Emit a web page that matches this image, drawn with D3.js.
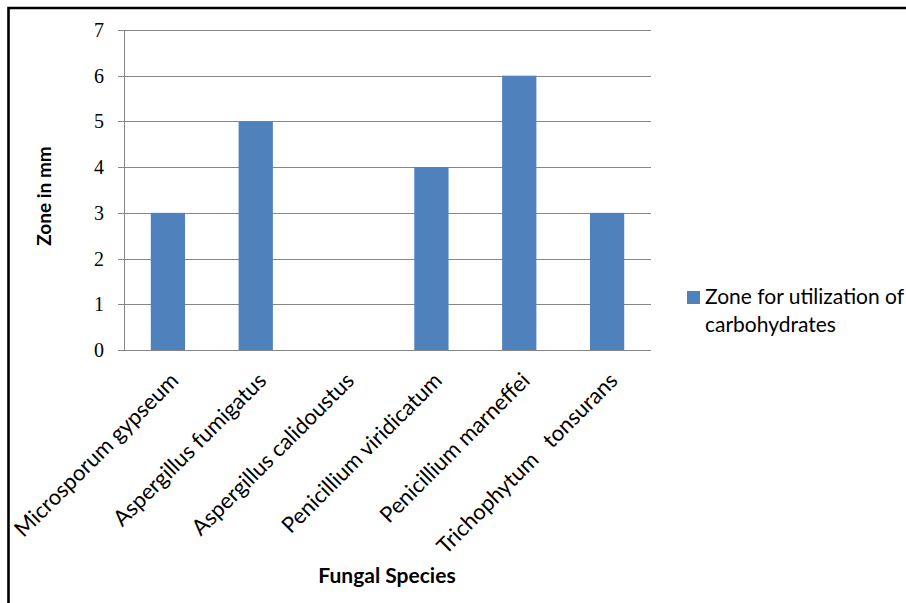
<!DOCTYPE html>
<html>
<head>
<meta charset="utf-8">
<script src="https://cdn.jsdelivr.net/npm/d3@7"></script>
<style>
  body { margin: 0; background: #fff; }
  text { white-space: pre; }
</style>
</head>
<body>
<svg id="chart" width="906" height="603"></svg>
<script>
// data
var species = ["Microsporum gypseum", "Aspergillus fumigatus", "Aspergillus calidoustus",
               "Penicillium viridicatum", "Penicillium marneffei", "Trichophytum   tonsurans"];
var zone = [3, 5, 0, 4, 6, 3];
var yTicks = [0, 1, 2, 3, 4, 5, 6, 7];
var seriesName = ["Zone for utilization of", "carbohydrates"];

var svg = d3.select("#chart");

// frame round the picture (only top and left show)
svg.append("path")
    .attr("d", "M8.5,603 L8.5,8 L906,8")
    .attr("fill", "none")
    .attr("stroke", "#000")
    .attr("stroke-width", 2.6);

var margin = {top: 30, left: 124, right: 651, bottom: 350};

var x = d3.scaleBand()
    .domain(species)
    .range([margin.left, margin.right])
    .paddingInner(0.61)
    .paddingOuter(0.305);

var y = d3.scaleLinear()
    .domain([0, 7])
    .range([margin.bottom, margin.top]);

// gridlines
svg.append("g")
    .selectAll("line")
    .data(yTicks)
    .enter().append("line")
    .attr("x1", margin.left - 6)
    .attr("x2", margin.right)
    .attr("y1", function (d) { return Math.round(y(d)) + 0.5; })
    .attr("y2", function (d) { return Math.round(y(d)) + 0.5; })
    .attr("stroke", "#868686")
    .attr("stroke-width", 1);

// y axis line
svg.append("line")
    .attr("x1", margin.left + 0.5).attr("x2", margin.left + 0.5)
    .attr("y1", margin.top).attr("y2", margin.bottom)
    .attr("stroke", "#868686");

// bars
svg.append("g")
    .selectAll("rect")
    .data(zone)
    .enter().append("rect")
    .attr("x", function (d, i) { return x(species[i]); })
    .attr("width", x.bandwidth())
    .attr("y", function (d) { return y(d); })
    .attr("height", function (d) { return y(0) - y(d); })
    .attr("fill", "#4F81BD");

// redraw baseline on top of bars
svg.append("line")
    .attr("x1", margin.left - 6).attr("x2", margin.right)
    .attr("y1", Math.round(y(0)) + 0.5).attr("y2", Math.round(y(0)) + 0.5)
    .attr("stroke", "#868686");

// y tick labels
svg.append("g")
    .selectAll("text")
    .data(yTicks)
    .enter().append("text")
    .attr("x", 104)
    .attr("y", function (d) { return y(d) + 7; })
    .attr("text-anchor", "end")
    .attr("font-family", "Liberation Serif")
    .attr("font-size", 20)
    .attr("fill", "#000")
    .text(function (d) { return d; });

// category labels, rotated
svg.append("g")
    .selectAll("text")
    .data(species)
    .enter().append("text")
    .attr("transform", function (d) {
        var cx = x(d) + x.bandwidth() / 2;
        return "translate(" + (cx + 12) + "," + 382 + ") rotate(-45)";
    })
    .attr("text-anchor", "end")
    .attr("font-family", "Lato")
    .attr("font-size", 22)
    .attr("fill", "#000")
    .text(function (d) { return d; });

// axis titles
svg.append("text")
    .attr("transform", "translate(51,196) rotate(-90)")
    .attr("text-anchor", "middle")
    .attr("font-family", "Lato")
    .attr("font-weight", "bold")
    .attr("font-size", 19)
    .text("Zone in mm");

svg.append("text")
    .attr("x", 387)
    .attr("y", 583)
    .attr("text-anchor", "middle")
    .attr("font-family", "Lato")
    .attr("font-weight", "bold")
    .attr("font-size", 21)
    .text("Fungal Species");

// legend
svg.append("rect")
    .attr("x", 687).attr("y", 291)
    .attr("width", 13).attr("height", 13)
    .attr("fill", "#4F81BD");

svg.append("g")
    .selectAll("text")
    .data(seriesName)
    .enter().append("text")
    .attr("x", 705)
    .attr("y", function (d, i) { return 304 + i * 28; })
    .attr("font-family", "Lato")
    .attr("font-size", 21)
    .attr("fill", "#000")
    .text(function (d) { return d; });
</script>
</body>
</html>
